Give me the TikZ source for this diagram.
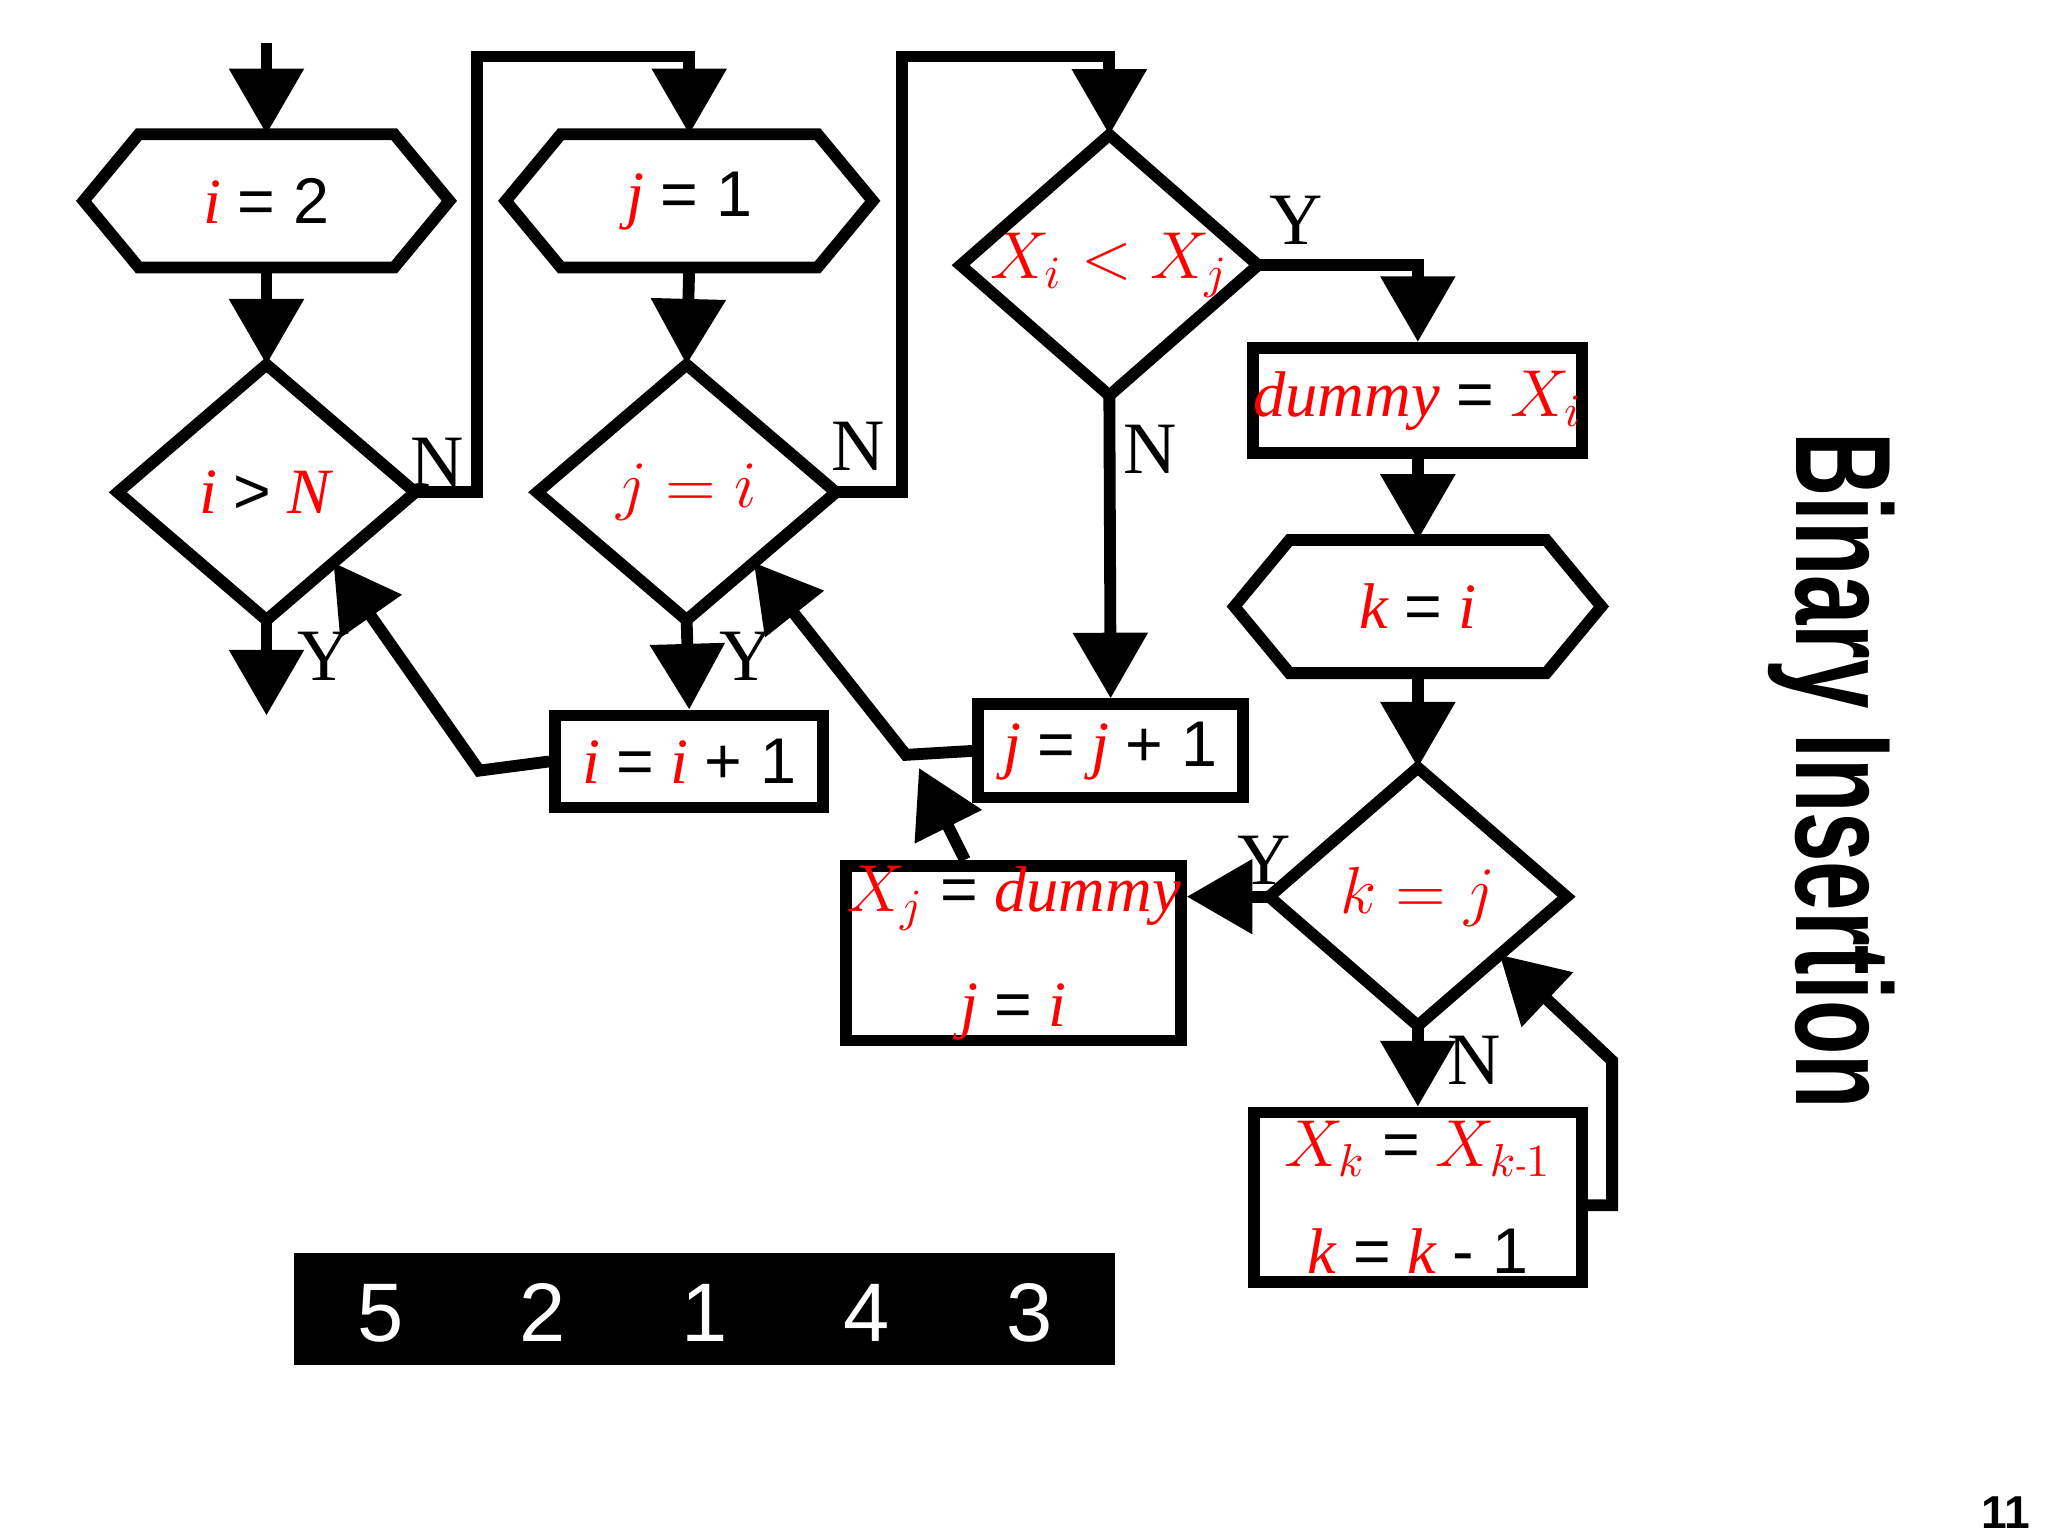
\documentclass[tikz,border=0pt]{standalone}
\usepackage{fontspec}
\setmainfont{Liberation Serif}
\newfontfamily\sansf{Liberation Sans}
\usetikzlibrary{calc,arrows.meta}
\tikzset{
  ln/.style={line width=0.09cm},
  ar/.style={ln,-{Triangle[length=0.5cm,width=0.55cm]}},
  box/.style={rectangle,inner sep=0pt,font=\fontsize{14}{17}\selectfont},
  fbox/.style={box,draw,ln},
  lab/.style={font=\fontsize{16}{18}\selectfont}
}
\newcommand\rv[1]{\textcolor{red}{\textit{#1}}}
\newcommand\sq[1]{{\sansf #1}}
\newcommand\hexdraw[1]{\draw[ln] (#1.west) -- ($(#1.north west)+(42,0)$) -- ($(#1.north east)+(-42,0)$) -- (#1.east) -- ($(#1.south east)+(-42,0)$) -- ($(#1.south west)+(42,0)$) -- cycle;}
\newcommand\diadraw[1]{\draw[ln] (#1.north) -- (#1.east) -- (#1.south) -- (#1.west) -- cycle;}
\begin{document}
\begin{tikzpicture}[x=0.01cm,y=-0.01cm]
\useasboundingbox (0,0) rectangle (1560,1170);
% hexagons
\node[box,minimum width=2.77cm,minimum height=1cm] (hi) at (203,153) {\rv{i} \sq{= 2}};
\node[box,minimum width=2.78cm,minimum height=1cm] (hj) at (525,153) {\rv{j} \sq{= 1}};
\node[box,minimum width=2.78cm,minimum height=1cm] (hk) at (1080,462) {\rv{k} \sq{=} \rv{i}};
\hexdraw{hi}\hexdraw{hj}\hexdraw{hk}
% diamonds
\node[box,minimum width=2.25cm,minimum height=1.93cm] (di) at (203,375) {\rv{i} \sq{>} \rv{N}};
\node[box,minimum width=2.26cm,minimum height=1.93cm] (dj) at (523,375) {\color{red}$j=i$};
\node[box,minimum width=2.25cm,minimum height=1.97cm] (dx) at (845,202) {\color{red}$X_i<X_j$};
\node[box,minimum width=2.25cm,minimum height=1.95cm] (dk) at (1080,683) {\color{red}$k=j$};
\diadraw{di}\diadraw{dj}\diadraw{dx}\diadraw{dk}
% boxes
\node[fbox,minimum width=2.04cm,minimum height=0.7cm] (bi) at (525,580) {\rv{i} \sq{=} \rv{i} \sq{+ 1}};
\node[fbox,minimum width=2.02cm,minimum height=0.71cm] (bj) at (846,572) {\rv{j} \sq{=} \rv{j} \sq{+ 1}};
\node[fbox,minimum width=2.5cm,minimum height=0.8cm] (bd) at (1080,305) {\rv{dummy} \sq{=} \textcolor{red}{$X_i$}};
\node[fbox,minimum width=2.5cm,minimum height=1.32cm,align=center] (bx) at (772,726)
  {\textcolor{red}{$X_j$} \sq{=} \rv{dummy}\\[8pt] \rv{j} \sq{=} \rv{i}};
\node[fbox,minimum width=2.5cm,minimum height=1.29cm,align=center] (bk) at (1080,912)
  {\textcolor{red}{$X_k$} \sq{=} \textcolor{red}{$X_{k\mbox{\scriptsize -}1}$}\\[6pt] \rv{k} \sq{=} \rv{k} \sq{- 1}};
% connectors
\coordinate (in) at (203,33);
\coordinate (out) at (203,545);
\draw[ar] (in) -- (hi.north);
\draw[ar] (hi.south) -- (di.north);
\draw[ar] (di.south) -- (out);
\draw[ar] (di.east) -- ++(47,0) |- (525,43) -- (hj.north);
\draw[ar] (hj.south) -- (dj.north);
\draw[ar] (dj.south) -- (bi.north);
\draw[ar] (bi.west) -- (365,587) -- ($(di.east)!0.55!(di.south)$);
\draw[ar] (dj.east) -- ++(50,0) |- (845,43) -- (dx.north);
\draw[ar] (dx.south) -- (bj.north);
\draw[ar] (bj.west) -- (690,575) -- ($(dj.east)!0.55!(dj.south)$);
\draw[ar] (dx.east) -| (bd.north);
\draw[ar] (bd.south) -- (hk.north);
\draw[ar] (hk.south) -- (dk.north);
\draw[ar] (dk.west) -- (dk.west -| bx.east);
\coordinate (c1) at (700,585);
\draw[ar] (bx.north -| 735,0) -- (c1);
\draw[ar] (dk.south) -- (bk.north);
\draw[ar] (bk.east |- 0,918) -- (1228,918) -- (1228,808) -- ($(dk.east)!0.45!(dk.south)$);
% labels
\node[lab] (l1) at (333,352) {N};
\node[lab] (l2) at (247,500) {Y};
\node[lab] (l3) at (654,340) {N};
\node[lab] (l4) at (568,500) {Y};
\node[lab] (l5) at (876,342) {N};
\node[lab] (l6) at (987,168) {Y};
\node[lab] (l7) at (963,655) {Y};
\node[lab] (l8) at (1123,808) {N};
% array
\node[fill=black,minimum width=6.25cm,minimum height=0.85cm,inner sep=0pt] (arr) at (537,997) {};
\foreach \v/\x in {5/290,2/413,1/537,4/660,3/784}
  \node[text=white,font=\sansf\fontsize{18}{18}\selectfont] (n\v) at (\x,1000) {\v};
% title
\node[rotate=-90] (title) at (1395,587) {\resizebox{5.15cm}{0.75cm}{\sansf\bfseries Binary Insertion}};
\node[font=\sansf\bfseries\fontsize{10}{12}\selectfont] (pg) at (1528,1152) {11};
\end{tikzpicture}
\end{document}
